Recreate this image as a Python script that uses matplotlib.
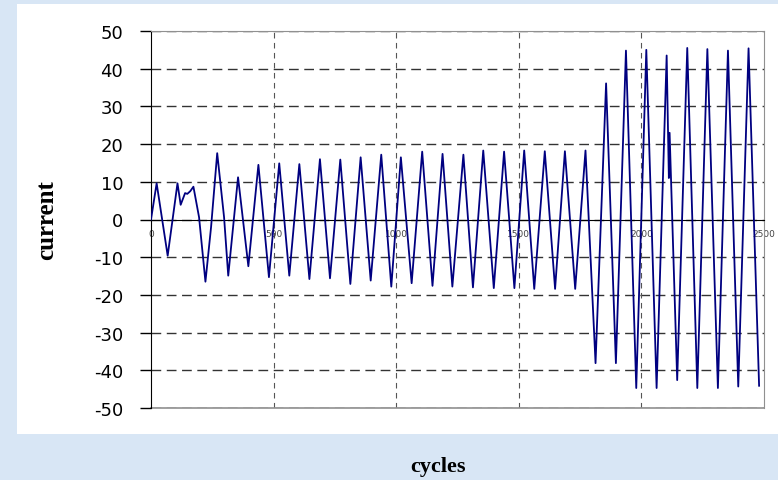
import matplotlib
matplotlib.use('Agg')
import matplotlib.pyplot as plt
from matplotlib.patches import Rectangle

# Turning points of the current trace
cycles = [0, 23, 68, 108, 121, 139, 148, 160, 173, 196, 222, 245, 270, 298, 315,
          355, 397, 438, 481, 523, 564, 605, 646, 689, 730, 772, 813, 855, 896,
          939, 980, 1019, 1063, 1106, 1148, 1189, 1229, 1274, 1313, 1355, 1398,
          1440, 1482, 1522, 1563, 1606, 1648, 1688, 1730, 1772, 1813, 1856, 1896,
          1937, 1979, 2020, 2062, 2103, 2112, 2115, 2146, 2187, 2228, 2269, 2312,
          2353, 2395, 2437, 2480]
current = [0, 9.6, -9.6, 9.6, 3.9, 7.0, 6.8, 7.5, 8.7, 0.6, -16.5, -2, 17.6, 0.6, -14.9,
           11.2, -12.4, 14.5, -15.3, 14.9, -14.9, 14.7, -15.8, 16.0, -15.6, 15.9, -17.1, 16.5, -16.2,
           17.2, -17.8, 16.5, -16.9, 18.0, -17.6, 17.4, -17.8, 17.2, -18.0, 18.3, -18.2,
           18.0, -18.2, 18.3, -18.4, 18.1, -18.4, 18.1, -18.4, 18.3, -38.1, 36.1, -38.1,
           44.8, -44.7, 45.0, -44.7, 43.5, 11, 23, -42.6, 45.5, -44.7, 45.2, -44.7,
           44.8, -44.3, 45.4, -44.1]

x_ticks = [0, 500, 1000, 1500, 2000, 2500]
y_ticks = [-50, -40, -30, -20, -10, 0, 10, 20, 30, 40, 50]

fig = plt.figure(figsize=(7.78, 4.81), dpi=100, facecolor='#d8e6f5')
# white panel behind the chart
fig.patches.append(Rectangle((17 / 778, 1 - 435 / 481), 761 / 778, 430 / 481,
                             transform=fig.transFigure, facecolor='white',
                             edgecolor='none', zorder=-5))

ax = fig.add_axes([151 / 778, 1 - 409 / 481, 613 / 778, 377 / 481])
ax.set_zorder(2)
ax.set_facecolor('white')

ax.plot(cycles, current, color='#000080', linewidth=1.3, zorder=3)

ax.set_xlim(0, 2500)
ax.set_ylim(-50, 50)

# grid
for y in y_ticks:
    ax.axhline(y, color='#333333', linewidth=1, linestyle=(0, (7, 4)), zorder=1)
for x in x_ticks[1:-1]:
    ax.axvline(x, color='#555555', linewidth=0.8, linestyle=(0, (5, 4)), zorder=1)

# x axis runs through zero
ax.spines['bottom'].set_position(('data', 0))
ax.spines['bottom'].set_color('black')
ax.spines['left'].set_color('black')
for s in ['top', 'right']:
    ax.spines[s].set_color('#909090')
ax.axhline(-50, color='#909090', linewidth=1.2, zorder=1, clip_on=False)

ax.set_xticks(x_ticks)
ax.set_xticklabels([str(v) for v in x_ticks], fontsize=6.5, color='#444444')
ax.tick_params(axis='x', length=0, pad=7)

ax.set_yticks(y_ticks)
ax.set_yticklabels([str(v) for v in y_ticks], fontsize=13)
ax.tick_params(axis='y', direction='out', length=8, width=1, pad=12)

ax.set_ylabel('current', family='Liberation Serif', fontweight='bold', fontsize=18)
ax.yaxis.set_label_coords(-0.152, 0.5)
fig.text(438 / 778, 1 - 467 / 481, 'cycles', family='Liberation Serif',
         fontweight='bold', fontsize=16, ha='center', va='center')

fig.savefig('out.png', dpi=100, facecolor=fig.get_facecolor())
